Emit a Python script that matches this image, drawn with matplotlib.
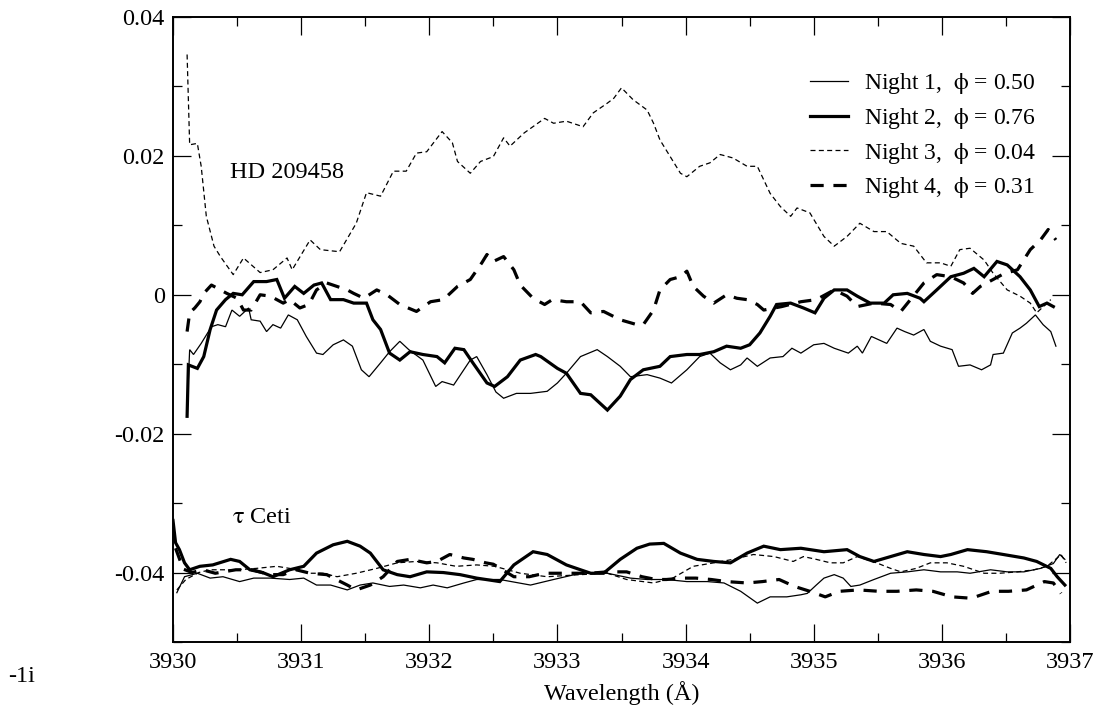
import matplotlib
matplotlib.use("Agg")
import matplotlib.pyplot as plt
from matplotlib.ticker import MultipleLocator, FuncFormatter, FixedLocator

plt.rcParams['font.family'] = ['Liberation Serif', 'DejaVu Serif']
plt.rcParams['mathtext.fontset'] = 'stix'
plt.rcParams['axes.unicode_minus'] = False
plt.rcParams['lines.scale_dashes'] = False

# ---------------- data ----------------
labels = ["Night 1,  $\\mathrm{\\phi}$ = 0.50", "Night 2,  $\\mathrm{\\phi}$ = 0.76",
          "Night 3,  $\\mathrm{\\phi}$ = 0.04", "Night 4,  $\\mathrm{\\phi}$ = 0.31"]
x_ticks = [3930, 3931, 3932, 3933, 3934, 3935, 3936, 3937]
y_ticks = [-0.04, -0.02, 0.0, 0.02, 0.04]

# HD 209458
hd_n1_x = [3930.12, 3930.13, 3930.16, 3930.22, 3930.30, 3930.35, 3930.41, 3930.46, 3930.52, 3930.59,
           3930.61, 3930.68, 3930.73, 3930.78, 3930.84, 3930.90, 3930.97, 3931.04, 3931.12, 3931.17,
           3931.25, 3931.33, 3931.40, 3931.47, 3931.53, 3931.62, 3931.69, 3931.77, 3931.84, 3931.95,
           3932.05, 3932.10, 3932.19, 3932.32, 3932.37, 3932.45, 3932.52, 3932.58, 3932.68, 3932.79,
           3932.92, 3933.00, 3933.07, 3933.18, 3933.31, 3933.39, 3933.49, 3933.57, 3933.70, 3933.80,
           3933.89, 3934.01, 3934.11, 3934.19, 3934.27, 3934.35, 3934.43, 3934.48, 3934.56, 3934.66,
           3934.76, 3934.83, 3934.90, 3935.00, 3935.08, 3935.16, 3935.27, 3935.34, 3935.38, 3935.45,
           3935.57, 3935.65, 3935.71, 3935.78, 3935.86, 3935.91, 3935.99, 3936.08, 3936.13, 3936.22,
           3936.31, 3936.38, 3936.40, 3936.48, 3936.55, 3936.61, 3936.66, 3936.73, 3936.79, 3936.85,
           3936.89]
hd_n1_y = [-0.0122, -0.0079, -0.0086, -0.0070, -0.0046, -0.0043, -0.0046, -0.0022, -0.0031, -0.0019,
           -0.0036, -0.0038, -0.0053, -0.0043, -0.0048, -0.0029, -0.0036, -0.0060, -0.0084, -0.0086,
           -0.0072, -0.0065, -0.0074, -0.0108, -0.0118, -0.0098, -0.0082, -0.0067, -0.0079, -0.0094,
           -0.0132, -0.0125, -0.0130, -0.0094, -0.0089, -0.0115, -0.0140, -0.0149, -0.0142, -0.0142,
           -0.0139, -0.0127, -0.0113, -0.0089, -0.0079, -0.0089, -0.0103, -0.0118, -0.0115, -0.0120,
           -0.0127, -0.0108, -0.0089, -0.0084, -0.0098, -0.0108, -0.0101, -0.0091, -0.0103, -0.0091,
           -0.0089, -0.0077, -0.0084, -0.0072, -0.0070, -0.0077, -0.0084, -0.0074, -0.0084, -0.0060,
           -0.0070, -0.0048, -0.0053, -0.0058, -0.0050, -0.0067, -0.0074, -0.0079, -0.0103, -0.0101,
           -0.0108, -0.0101, -0.0086, -0.0084, -0.0055, -0.0048, -0.0041, -0.0029, -0.0043, -0.0053,
           -0.0074]

hd_n2_x = [3930.11, 3930.12, 3930.19, 3930.24, 3930.29, 3930.34, 3930.41, 3930.47, 3930.54, 3930.63,
           3930.73, 3930.81, 3930.87, 3930.95, 3931.02, 3931.10, 3931.16, 3931.23, 3931.33, 3931.41,
           3931.51, 3931.56, 3931.62, 3931.69, 3931.77, 3931.85, 3931.95, 3932.06, 3932.12, 3932.20,
           3932.27, 3932.34, 3932.45, 3932.51, 3932.61, 3932.71, 3932.83, 3932.87, 3933.00, 3933.07,
           3933.18, 3933.26, 3933.39, 3933.49, 3933.57, 3933.67, 3933.80, 3933.88, 3934.01, 3934.11,
           3934.22, 3934.32, 3934.43, 3934.50, 3934.58, 3934.66, 3934.71, 3934.82, 3934.92, 3935.01,
           3935.08, 3935.16, 3935.26, 3935.34, 3935.44, 3935.55, 3935.62, 3935.73, 3935.83, 3935.86,
           3935.96, 3936.07, 3936.17, 3936.25, 3936.33, 3936.43, 3936.51, 3936.61, 3936.69, 3936.76,
           3936.82, 3936.87]
hd_n2_y = [-0.0175, -0.0101, -0.0106, -0.0089, -0.0050, -0.0022, -0.0007, 0.0002, 0.0000, 0.0019,
           0.0019, 0.0022, -0.0005, 0.0012, 0.0002, 0.0014, 0.0017, -0.0007, -0.0007, -0.0012,
           -0.0012, -0.0036, -0.0050, -0.0084, -0.0094, -0.0082, -0.0086, -0.0089, -0.0098, -0.0077,
           -0.0079, -0.0098, -0.0127, -0.0132, -0.0118, -0.0094, -0.0086, -0.0089, -0.0106, -0.0113,
           -0.0142, -0.0144, -0.0166, -0.0146, -0.0122, -0.0108, -0.0103, -0.0089, -0.0086, -0.0086,
           -0.0082, -0.0074, -0.0077, -0.0072, -0.0055, -0.0031, -0.0014, -0.0012, -0.0019, -0.0026,
           -0.0005, 0.0007, 0.0007, -0.0002, -0.0012, -0.0012, 0.0000, 0.0002, -0.0005, -0.0010,
           0.0007, 0.0026, 0.0031, 0.0038, 0.0026, 0.0048, 0.0043, 0.0026, 0.0007, -0.0017,
           -0.0012, -0.0017]

hd_n3_x = [3930.11, 3930.13, 3930.19, 3930.22, 3930.26, 3930.32, 3930.37, 3930.47, 3930.55, 3930.68,
           3930.78, 3930.89, 3930.93, 3931.07, 3931.15, 3931.30, 3931.43, 3931.51, 3931.62, 3931.72,
           3931.82, 3931.90, 3931.98, 3932.10, 3932.18, 3932.22, 3932.32, 3932.40, 3932.50, 3932.58,
           3932.63, 3932.74, 3932.90, 3932.97, 3933.07, 3933.20, 3933.28, 3933.39, 3933.44, 3933.50,
           3933.59, 3933.70, 3933.75, 3933.80, 3933.88, 3933.96, 3934.01, 3934.11, 3934.19, 3934.27,
           3934.37, 3934.48, 3934.56, 3934.66, 3934.74, 3934.82, 3934.87, 3934.97, 3935.08, 3935.16,
           3935.26, 3935.36, 3935.47, 3935.57, 3935.68, 3935.78, 3935.88, 3935.99, 3936.07, 3936.14,
           3936.22, 3936.33, 3936.40, 3936.51, 3936.61, 3936.69, 3936.74, 3936.85]
hd_n3_y = [0.0346, 0.0216, 0.0218, 0.0185, 0.0113, 0.0070, 0.0055, 0.0029, 0.0053, 0.0032,
           0.0036, 0.0053, 0.0036, 0.0079, 0.0065, 0.0062, 0.0103, 0.0147, 0.0142, 0.0178,
           0.0178, 0.0204, 0.0206, 0.0235, 0.0219, 0.0192, 0.0175, 0.0192, 0.0199, 0.0226,
           0.0214, 0.0233, 0.0254, 0.0247, 0.0250, 0.0242, 0.0262, 0.0276, 0.0283, 0.0298,
           0.0281, 0.0266, 0.0247, 0.0223, 0.0199, 0.0175, 0.0170, 0.0185, 0.0190, 0.0202,
           0.0197, 0.0185, 0.0185, 0.0146, 0.0127, 0.0113, 0.0125, 0.0118, 0.0084, 0.0070,
           0.0084, 0.0103, 0.0091, 0.0091, 0.0074, 0.0070, 0.0046, 0.0046, 0.0041, 0.0065,
           0.0067, 0.0050, 0.0031, 0.0007, -0.0002, -0.0012, -0.0026, -0.0007]

hd_n4_x = [3930.11, 3930.13, 3930.17, 3930.21, 3930.24, 3930.30, 3930.37, 3930.42, 3930.50, 3930.55,
           3930.61, 3930.68, 3930.76, 3930.86, 3930.91, 3930.99, 3931.06, 3931.12, 3931.20, 3931.28,
           3931.36, 3931.41, 3931.49, 3931.59, 3931.67, 3931.77, 3931.90, 3932.01, 3932.11, 3932.22,
           3932.32, 3932.41, 3932.45, 3932.50, 3932.58, 3932.66, 3932.71, 3932.81, 3932.90, 3932.96,
           3933.07, 3933.18, 3933.26, 3933.36, 3933.49, 3933.62, 3933.67, 3933.75, 3933.80, 3933.88,
           3933.96, 3934.01, 3934.06, 3934.14, 3934.22, 3934.32, 3934.40, 3934.48, 3934.56, 3934.61,
           3934.75, 3934.90, 3935.02, 3935.16, 3935.26, 3935.34, 3935.47, 3935.60, 3935.68, 3935.86,
           3935.96, 3936.07, 3936.17, 3936.24, 3936.30, 3936.48, 3936.59, 3936.69, 3936.77, 3936.83,
           3936.89]
hd_n4_y = [-0.0053, -0.0026, -0.0019, -0.0010, 0.0002, 0.0014, 0.0007, 0.0002, -0.0005, -0.0022,
           -0.0022, 0.0000, -0.0002, -0.0012, -0.0007, -0.0019, -0.0014, 0.0007, 0.0017, 0.0012,
           0.0007, 0.0002, -0.0005, 0.0007, 0.0000, -0.0014, -0.0024, -0.0010, -0.0007, 0.0012,
           0.0022, 0.0046, 0.0058, 0.0048, 0.0055, 0.0036, 0.0014, -0.0005, -0.0014, -0.0007,
           -0.0010, -0.0010, -0.0026, -0.0024, -0.0036, -0.0043, -0.0043, -0.0022, 0.0007, 0.0022,
           0.0026, 0.0034, 0.0012, -0.0002, -0.0012, 0.0000, -0.0005, -0.0007, -0.0014, -0.0022,
           -0.0017, -0.0010, -0.0007, 0.0007, -0.0002, -0.0017, -0.0012, -0.0014, -0.0024, 0.0017,
           0.0029, 0.0026, 0.0017, 0.0002, 0.0012, 0.0030, 0.0036, 0.0065, 0.0079, 0.0094,
           0.0079]

# tau Ceti
tc_n1_x = [3930.03, 3930.09, 3930.19, 3930.29, 3930.39, 3930.52, 3930.63, 3930.76, 3930.91, 3931.02,
           3931.12, 3931.23, 3931.36, 3931.46, 3931.56, 3931.69, 3931.80, 3931.93, 3932.03, 3932.14,
           3932.27, 3932.37, 3932.55, 3932.79, 3932.97, 3933.18, 3933.39, 3933.57, 3933.70, 3933.85,
           3934.01, 3934.17, 3934.30, 3934.43, 3934.56, 3934.66, 3934.79, 3934.90, 3934.95, 3935.02,
           3935.08, 3935.16, 3935.23, 3935.29, 3935.36, 3935.47, 3935.60, 3935.73, 3935.86, 3935.99,
           3936.12, 3936.22, 3936.38, 3936.51, 3936.64, 3936.77, 3936.87, 3936.92, 3936.96]
tc_n1_y = [-0.0429, -0.0406, -0.0401, -0.0408, -0.0406, -0.0413, -0.0408, -0.0408, -0.0410, -0.0408,
           -0.0418, -0.0418, -0.0425, -0.0418, -0.0415, -0.0420, -0.0418, -0.0422, -0.0418, -0.0422,
           -0.0415, -0.0410, -0.0410, -0.0418, -0.0410, -0.0401, -0.0401, -0.0408, -0.0410, -0.0410,
           -0.0413, -0.0413, -0.0415, -0.0427, -0.0444, -0.0435, -0.0435, -0.0432, -0.0430, -0.0418,
           -0.0408, -0.0403, -0.0408, -0.0420, -0.0418, -0.0410, -0.0401, -0.0399, -0.0396, -0.0399,
           -0.0399, -0.0401, -0.0396, -0.0399, -0.0399, -0.0394, -0.0387, -0.0374, -0.0381]

tc_n2_x = [3930.00, 3930.02, 3930.05, 3930.09, 3930.13, 3930.21, 3930.31, 3930.45, 3930.52, 3930.60,
           3930.70, 3930.78, 3930.91, 3931.02, 3931.12, 3931.25, 3931.36, 3931.46, 3931.54, 3931.64,
           3931.75, 3931.85, 3931.98, 3932.11, 3932.24, 3932.37, 3932.55, 3932.66, 3932.81, 3932.92,
           3933.07, 3933.18, 3933.26, 3933.36, 3933.49, 3933.62, 3933.72, 3933.83, 3933.96, 3934.09,
           3934.22, 3934.35, 3934.48, 3934.61, 3934.74, 3934.90, 3935.08, 3935.26, 3935.36, 3935.47,
           3935.60, 3935.73, 3935.86, 3935.99, 3936.07, 3936.20, 3936.35, 3936.48, 3936.64, 3936.74,
           3936.85, 3936.90, 3936.96]
tc_n2_y = [-0.0325, -0.0357, -0.0367, -0.0386, -0.0396, -0.0391, -0.0389, -0.0381, -0.0384, -0.0396,
           -0.0400, -0.0406, -0.0396, -0.0391, -0.0372, -0.0360, -0.0355, -0.0362, -0.0372, -0.0396,
           -0.0403, -0.0406, -0.0399, -0.0400, -0.0403, -0.0408, -0.0413, -0.0389, -0.0370, -0.0374,
           -0.0389, -0.0396, -0.0401, -0.0401, -0.0381, -0.0365, -0.0359, -0.0358, -0.0372, -0.0381,
           -0.0384, -0.0386, -0.0372, -0.0362, -0.0367, -0.0365, -0.0370, -0.0367, -0.0377, -0.0384,
           -0.0377, -0.0370, -0.0374, -0.0377, -0.0374, -0.0367, -0.0370, -0.0374, -0.0379, -0.0384,
           -0.0394, -0.0406, -0.0418]

tc_n3_x = [3930.03, 3930.10, 3930.20, 3930.29, 3930.50, 3930.65, 3930.81, 3930.91, 3931.07, 3931.17,
           3931.28, 3931.43, 3931.59, 3931.75, 3931.90, 3932.06, 3932.21, 3932.37, 3932.51, 3932.71,
           3932.92, 3933.18, 3933.39, 3933.54, 3933.75, 3933.90, 3934.06, 3934.22, 3934.37, 3934.53,
           3934.69, 3934.84, 3934.92, 3935.02, 3935.13, 3935.23, 3935.34, 3935.49, 3935.60, 3935.68,
           3935.80, 3935.91, 3936.04, 3936.17, 3936.33, 3936.45, 3936.59, 3936.72, 3936.82, 3936.90,
           3936.93, 3936.97]
tc_n3_y = [-0.0425, -0.0410, -0.0400, -0.0396, -0.0396, -0.0394, -0.0391, -0.0394, -0.0401, -0.0401,
           -0.0406, -0.0401, -0.0394, -0.0386, -0.0384, -0.0386, -0.0391, -0.0389, -0.0391, -0.0401,
           -0.0406, -0.0403, -0.0401, -0.0410, -0.0415, -0.0408, -0.0391, -0.0386, -0.0381, -0.0374,
           -0.0377, -0.0384, -0.0377, -0.0381, -0.0386, -0.0386, -0.0377, -0.0386, -0.0394, -0.0399,
           -0.0394, -0.0386, -0.0386, -0.0391, -0.0401, -0.0401, -0.0399, -0.0396, -0.0391, -0.0379,
           -0.0374, -0.0386]

tc_n4_x = [3930.02, 3930.08, 3930.15, 3930.23, 3930.33, 3930.49, 3930.62, 3930.75, 3930.86, 3930.96,
           3931.07, 3931.20, 3931.36, 3931.43, 3931.54, 3931.64, 3931.75, 3931.85, 3931.98, 3932.06,
           3932.16, 3932.27, 3932.34, 3932.44, 3932.50, 3932.66, 3932.78, 3932.90, 3933.07, 3933.25,
           3933.39, 3933.54, 3933.66, 3933.77, 3933.85, 3933.98, 3934.08, 3934.20, 3934.32, 3934.48,
           3934.60, 3934.73, 3934.85, 3934.97, 3935.09, 3935.20, 3935.35, 3935.51, 3935.65, 3935.80,
           3935.93, 3936.08, 3936.23, 3936.39, 3936.52, 3936.66, 3936.80, 3936.87, 3936.93]
tc_n4_y = [-0.0365, -0.0395, -0.0400, -0.0396, -0.0401, -0.0396, -0.0396, -0.0403, -0.0403, -0.0396,
           -0.0401, -0.0403, -0.0418, -0.0425, -0.0418, -0.0406, -0.0384, -0.0381, -0.0386, -0.0384,
           -0.0374, -0.0379, -0.0381, -0.0386, -0.0388, -0.0406, -0.0406, -0.0401, -0.0401, -0.0401,
           -0.0399, -0.0399, -0.0406, -0.0410, -0.0410, -0.0408, -0.0408, -0.0410, -0.0413, -0.0415,
           -0.0413, -0.0410, -0.0420, -0.0427, -0.0435, -0.0427, -0.0425, -0.0427, -0.0427, -0.0425,
           -0.0427, -0.0435, -0.0437, -0.0427, -0.0427, -0.0425, -0.0413, -0.0415, -0.0430]

# ---------------- styles ----------------
styles = [
    dict(color='black', lw=0.9, ls='-'),
    dict(color='black', lw=2.3, ls='-'),
    dict(color='black', lw=0.9, ls=(0, (3.6, 2.4))),
    dict(color='black', lw=2.3, ls=(0, (9.5, 7.0))),
]

fig = plt.figure(figsize=(10.98, 7.09), dpi=100)
ax = fig.add_axes([173 / 1098, 1 - 642 / 709, 897 / 1098, 625 / 709])

hd_sets = [(hd_n1_x, hd_n1_y), (hd_n2_x, hd_n2_y), (hd_n3_x, hd_n3_y), (hd_n4_x, hd_n4_y)]
tc_sets = [(tc_n1_x, tc_n1_y), (tc_n2_x, tc_n2_y), (tc_n3_x, tc_n3_y), (tc_n4_x, tc_n4_y)]

handles = []
for (x, y), st, lab in zip(hd_sets, styles, labels):
    assert len(x) == len(y)
    h, = ax.plot(x, y, label=lab, solid_joinstyle='miter', **st)
    handles.append(h)
for (x, y), st in zip(tc_sets, styles):
    assert len(x) == len(y)
    ax.plot(x, y, solid_joinstyle='miter', **st)

ax.set_xlim(3930, 3937)
ax.set_ylim(-0.05, 0.04)
ax.xaxis.set_major_locator(FixedLocator(x_ticks))
ax.xaxis.set_minor_locator(MultipleLocator(0.5))
ax.yaxis.set_major_locator(FixedLocator(y_ticks))
ax.yaxis.set_minor_locator(MultipleLocator(0.01))


def yfmt(v, pos):
    if abs(v) < 1e-12:
        return "0"
    return ("%.2f" % v)


ax.yaxis.set_major_formatter(FuncFormatter(yfmt))
ax.xaxis.set_major_formatter(FuncFormatter(lambda v, p: "%d" % round(v)))

ax.tick_params(which='both', direction='in', top=True, right=True, width=0.9,
               labelsize=17.5, colors='black')
ax.tick_params(which='major', length=13)
ax.tick_params(which='minor', length=6.5)
ax.tick_params(axis='x', pad=7)
ax.tick_params(axis='y', pad=6)
for s in ax.spines.values():
    s.set_linewidth(1.4)

ax.set_xlabel("Wavelength (Å)", fontsize=17.5, labelpad=6)

ax.text(3930.445, 0.0168, "HD 209458", fontsize=17.5, va='baseline', ha='left')
ax.text(3930.46, -0.0328, "$\\mathrm{\\tau}$ Ceti", fontsize=17.5, va='baseline', ha='left')

leg = ax.legend(handles=handles, loc='upper left', bbox_to_anchor=(0.710, 0.913),
                frameon=False, fontsize=17, handlelength=1.6, handletextpad=0.7,
                labelspacing=0.41, borderpad=0, borderaxespad=0)

fig.text(8 / 1098, 1 - 682 / 709, "-1i", fontsize=17.5, va='baseline', ha='left')

fig.savefig("out.png", dpi=100)
